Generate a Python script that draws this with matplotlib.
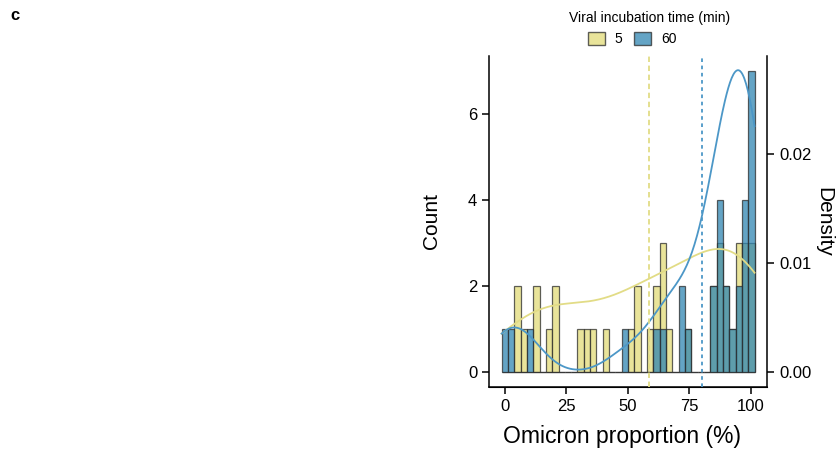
import numpy as np
import matplotlib
matplotlib.use("Agg")
import matplotlib.pyplot as plt
from matplotlib.patches import Patch

plt.rcParams['font.family'] = ['Liberation Sans', 'DejaVu Sans']

# ---------------- data ----------------
bin_lo, bin_hi, n_bins = -1.2, 101.5, 40
# counts per bin for each viral incubation time
counts_5 = [0, 0, 2, 1, 0, 2, 0, 1, 2, 0,
            0, 0, 1, 1, 1, 0, 1, 0, 0, 0,
            1, 2, 0, 1, 2, 3, 1, 0, 0, 1,
            0, 0, 0, 2, 3, 2, 1, 3, 3, 3]
counts_60 = [1, 1, 0, 0, 1, 0, 0, 0, 0, 0,
             0, 0, 0, 0, 0, 0, 0, 0, 0, 1,
             0, 0, 0, 0, 1, 1, 0, 0, 2, 1,
             0, 0, 0, 2, 4, 2, 1, 2, 4, 7]
mean_5 = 58.5
mean_60 = 80.1
group_labels = ['5', '60']
legend_title = 'Viral incubation time (min)'
x_ticks = [0, 25, 50, 75, 100]
count_ticks = [0, 2, 4, 6]
density_ticks = [0.00, 0.01, 0.02]

# ---------------- style ----------------
fill_5 = '#E2DC78'
fill_60 = '#3086B2'
line_5 = '#E2DC86'
line_60 = '#4C97C7'
bar_alpha = 0.75
bw_5 = 1.1
bw_60 = 0.58

edges = np.linspace(bin_lo, bin_hi, n_bins + 1)
centers = 0.5 * (edges[:-1] + edges[1:])
width = edges[1] - edges[0]


def kde(values, grid, adjust):
    v = np.asarray(values, float)
    h = adjust * v.std(ddof=1) * len(v) ** (-0.2)
    z = (grid[:, None] - v[None, :]) / h
    return np.exp(-0.5 * z ** 2).sum(axis=1) / (len(v) * h * np.sqrt(2 * np.pi))


fig = plt.figure(figsize=(8.38, 4.49), dpi=100)
ax = fig.add_axes([0.5835, 0.1381, 0.332, 0.7372])

ax.bar(edges[:-1], counts_5, width=width, align='edge', color=fill_5,
       alpha=bar_alpha, edgecolor='#2b2b2b', linewidth=0.9, zorder=2)
ax.bar(edges[:-1], counts_60, width=width, align='edge', color=fill_60,
       alpha=bar_alpha, edgecolor='#2b2b2b', linewidth=0.9, zorder=3)

ax.set_xticks(x_ticks)
ax.set_yticks(count_ticks)
ax.set_ylim(-0.35, 7.35)
ax.set_xlabel('Omicron proportion (%)', fontsize=16.5)
ax.xaxis.set_label_coords(0.478, -0.114)
ax.set_ylabel('Count', fontsize=15, labelpad=19)
ax.tick_params(labelsize=12, length=5, width=1.1, color='black')
for s in ['left', 'bottom']:
    ax.spines[s].set_linewidth(1.1)
ax.spines['top'].set_visible(False)
ax.spines['right'].set_visible(False)

ax2 = ax.twinx()
grid = np.linspace(bin_lo, bin_hi, 300)
vals_5 = np.repeat(centers, counts_5)
vals_60 = np.repeat(centers, counts_60)
ax2.plot(grid, kde(vals_5, grid, bw_5), color=line_5, lw=1.3, zorder=4)
ax2.plot(grid, kde(vals_60, grid, bw_60), color=line_60, lw=1.3, zorder=4)
ax2.axvline(mean_5, color=line_5, lw=1.3, linestyle=(0, (3, 2)), zorder=5)
ax2.axvline(mean_60, color=line_60, lw=1.3, linestyle=(0, (2, 2)), zorder=5)
ax2.set_ylim(-0.001376, 0.02899)
ax2.set_yticks(density_ticks)
ax2.set_yticklabels([f'{t:.2f}' for t in density_ticks])
ax2.set_ylabel('Density', fontsize=15, rotation=270, labelpad=16)
ax2.tick_params(labelsize=12, length=5, width=1.1)
ax2.spines['top'].set_visible(False)
ax2.spines['left'].set_visible(False)
ax2.spines['right'].set_linewidth(1.1)

handles = [Patch(facecolor=fill_5, alpha=bar_alpha, edgecolor='#2b2b2b'),
           Patch(facecolor=fill_60, alpha=bar_alpha, edgecolor='#2b2b2b')]
fig.legend(handles, group_labels, ncol=2, frameon=False,
           loc='center', bbox_to_anchor=(632 / 838, 1 - 39 / 449), fontsize=10,
           handlelength=1.25, handleheight=1.15,
           columnspacing=0.8, handletextpad=0.7, borderpad=0.1)
fig.text(650 / 838, 1 - 18 / 449, legend_title, fontsize=10,
         ha='center', va='center')

fig.text(0.012, 0.955, 'c', fontsize=12, fontweight='bold')

fig.savefig('out.png', dpi=100)
